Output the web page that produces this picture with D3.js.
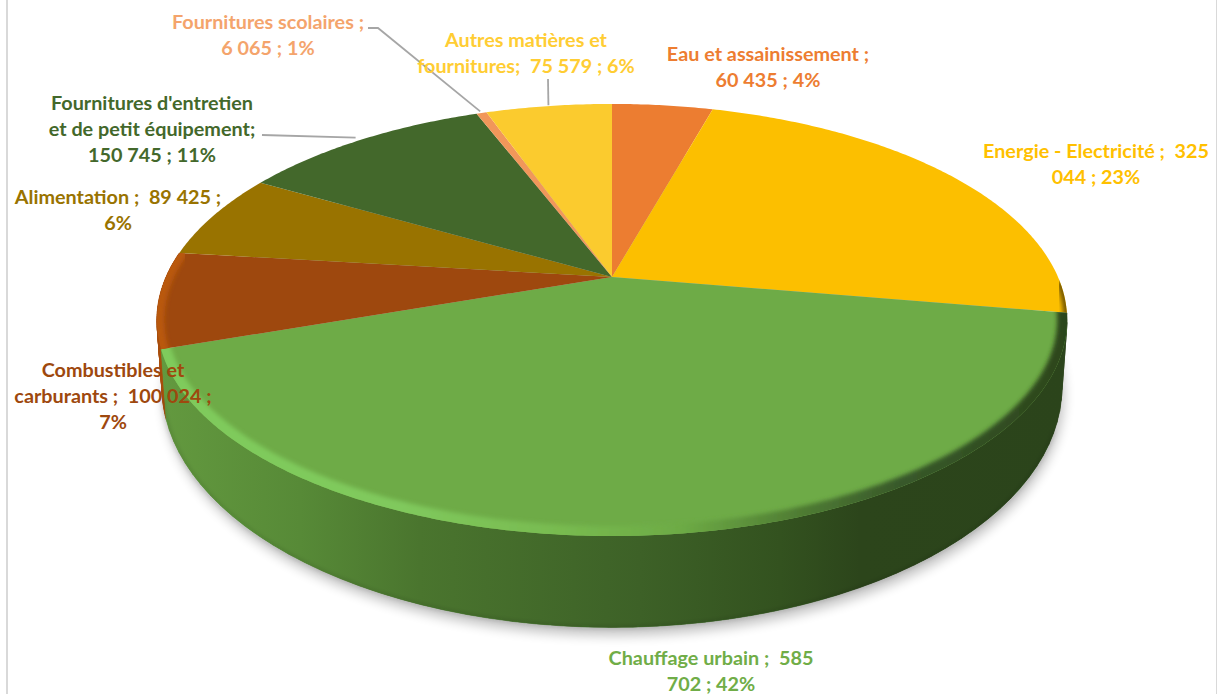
<!DOCTYPE html>
<html><head><meta charset="utf-8">
<script src="https://cdn.jsdelivr.net/npm/d3@7"></script>
<style>html,body{margin:0;padding:0;background:#fff;overflow:hidden}svg{display:block}</style>
</head><body><div id="chart"></div>
<script>
const categories = ["Eau et assainissement","Energie - Electricité","Chauffage urbain","Combustibles et carburants","Alimentation","Fournitures d'entretien et de petit équipement","Fournitures scolaires","Autres matières et fournitures"];
const values = [60435,325044,585702,100024,89425,150745,6065,75579];
const labelLines = [
 ["Eau et assainissement ;","60 435 ; 4%"],
 ["Energie - Electricité ;  325","044 ; 23%"],
 ["Chauffage urbain ;  585","702 ; 42%"],
 ["Combustibles et","carburants ;  100 024 ;","7%"],
 ["Alimentation ;  89 425 ;","6%"],
 ["Fournitures d'entretien","et de petit équipement;","150 745 ; 11%"],
 ["Fournitures scolaires ;","6 065 ; 1%"],
 ["Autres matières et","fournitures;  75 579 ; 6%"]
];
const sliceColors = ["#ec7d31","#fcbf00","#6eab47","#9e480e","#997300","#43682b","#f1975a","#fbcb2e"];
const labelColors = ["#ed7d31","#ffc000","#70ad47","#9e480e","#997300","#43682b","#f4a46c","#ffcd33"];
const labelCenters = [[768,55],[1096,152],[711,659],[113,371],[118,198],[152,104],[268,23],[526,41]];

const W=1217,H=694;
const svg=d3.select("#chart").append("svg").attr("width",W).attr("height",H);
const defs=svg.append("defs");
function blur(id,s){defs.append("filter").attr("id",id).attr("x","-10%").attr("y","-10%").attr("width","120%").attr("height","120%").append("feGaussianBlur").attr("stdDeviation",s);}
blur("b2",2);blur("b8",6);
function grad(id,stops){const g=defs.append("linearGradient").attr("id",id).attr("gradientUnits","userSpaceOnUse").attr("x1",160).attr("x2",1070).attr("y1",0).attr("y2",0);
 stops.forEach(([x,c])=>g.append("stop").attr("offset",(x-160)/910).attr("stop-color",c));}
grad("sideG",[[160,"#63993f"],[300,"#578a37"],[420,"#4a752e"],[640,"#3d6127"],[780,"#33521f"],[860,"#2c451b"],[1070,"#2b441b"]]);
grad("rimG",[[160,"#7fcb5c"],[400,"#80c95d"],[560,"#78bb50"],[680,"#6dab45"],[800,"#4f7c33"],[900,"#38592a"],[1070,"#2c451b"]]);

// Perspective projection of the pie disc: upper face and lower face
const k=0.199;
const topFace={x0:612,y0:277,a:446,b:207.5};
const botFace={x0:612,y0:339,a:441,b:231};
function proj(f,theta,r=1){
  const u=r*Math.sin(theta),v=r*Math.cos(theta),d=1+k*v;
  return [f.x0+f.a*u/d,f.y0-f.b*v/d];
}
const pie=d3.pie().value(d=>d).sort(null).startAngle(0).endAngle(2*Math.PI);
const arcs=pie(values);
const line=d3.line();
function rim(f,a0,a1){const n=Math.max(3,Math.ceil(Math.abs(a1-a0)/0.01));return d3.range(n+1).map(i=>proj(f,a0+(a1-a0)*i/n));}

// shadow
const all=rim(botFace,0,2*Math.PI);
svg.append("path").attr("d",line(all)+"Z").attr("fill","#000").attr("opacity",.24).attr("filter","url(#b8)").attr("transform","translate(2,8)");

// sides (rear pieces first)
const sideOrder=[3,2];
const sideFill={2:"url(#sideG)",3:"#a84f0e"};
const g=svg.append("g");
sideOrder.forEach(i=>{const d=arcs[i];
  const pts=rim(topFace,d.startAngle,d.endAngle).concat(rim(botFace,d.endAngle,d.startAngle));
  g.append("path").attr("d",line(pts)+"Z").attr("fill",sideFill[i]);
  const n=60;d3.range(n).forEach(j=>{
    const a=d.startAngle+(d.endAngle-d.startAngle)*j/n,b=d.startAngle+(d.endAngle-d.startAngle)*(j+1)/n;
    g.append("path").attr("d",line([proj(topFace,a),proj(topFace,b),proj(botFace,b),proj(botFace,a)])+"Z").attr("fill",sideFill[i]).attr("stroke",sideFill[i]).attr("stroke-width",.5);
  });
});
svg.append("path").attr("d",line(rim(botFace,Math.PI*0.62,Math.PI*1.42))).attr("fill","none").attr("stroke","#1f3313").attr("stroke-opacity",.28).attr("stroke-width",1.5).attr("filter","url(#b2)");

// top face slices
arcs.forEach((d,i)=>{
  const pts=[[topFace.x0,topFace.y0]].concat(rim(topFace,d.startAngle,d.endAngle));
  svg.append("path").attr("d",line(pts)+"Z").attr("fill",sliceColors[i]);
});
// bevels along the rim, clipped to each slice
const bevel=[null,{c:"#7a5c00",w:8,from:.9},{c:"url(#rimG)",w:20},{c:"#b9590f",w:15},null,null,null,null];
arcs.forEach((d,i)=>{
  if(!bevel[i])return;
  const b=bevel[i];
  const id="clip"+i;
  const pts=[[topFace.x0,topFace.y0]].concat(rim(topFace,d.startAngle,d.endAngle));
  defs.append("clipPath").attr("id",id).append("path").attr("d",line(pts)+"Z");
  const s=b.from? d.startAngle+(d.endAngle-d.startAngle)*b.from : d.startAngle-0.02;
  svg.append("g").attr("clip-path","url(#"+id+")").append("path")
    .attr("d",line(rim(topFace,s,d.endAngle+0.02))).attr("fill","none")
    .attr("stroke",b.c).attr("stroke-width",b.w).attr("filter","url(#b2)");
});

// leader lines
const leaderColor="#a6a6a6";
function mid(i,f=0.5){const d=arcs[i];return d.startAngle+(d.endAngle-d.startAngle)*f;}
const ends={6:proj(topFace,mid(6),1.012),5:proj(topFace,mid(5),1.02),7:proj(topFace,mid(7),1.006)};
const leaders=[[[368,28],[378,28],ends[6]],[[262,135],ends[5]],[[548,79],ends[7]]];
leaders.forEach(p=>svg.append("path").attr("d",line(p)).attr("fill","none").attr("stroke",leaderColor).attr("stroke-width",1.8));

// labels: narrow bold face widened as in the source
const lh=26.2, stretch=1.1;
labelLines.forEach((ls,i)=>{
  const [cx,cy]=labelCenters[i];
  const t=svg.append("text").attr("text-anchor","middle").attr("font-family","Lato, 'Open Sans', sans-serif")
    .attr("transform",`translate(${cx},0) scale(${stretch},1)`)
    .attr("font-weight",700).attr("font-size",18).attr("fill",labelColors[i]).style("white-space","pre");
  ls.forEach((s,j)=>t.append("tspan").attr("x",0).attr("y",cy+j*lh+6).text(s));
});

// frame
svg.append("line").attr("x1",7).attr("x2",7).attr("y1",0).attr("y2",H).attr("stroke","#d9d9d9").attr("stroke-width",2);
svg.append("line").attr("x1",1216.5).attr("x2",1216.5).attr("y1",0).attr("y2",H).attr("stroke","#d9d9d9").attr("stroke-width",1);
</script></body></html>
